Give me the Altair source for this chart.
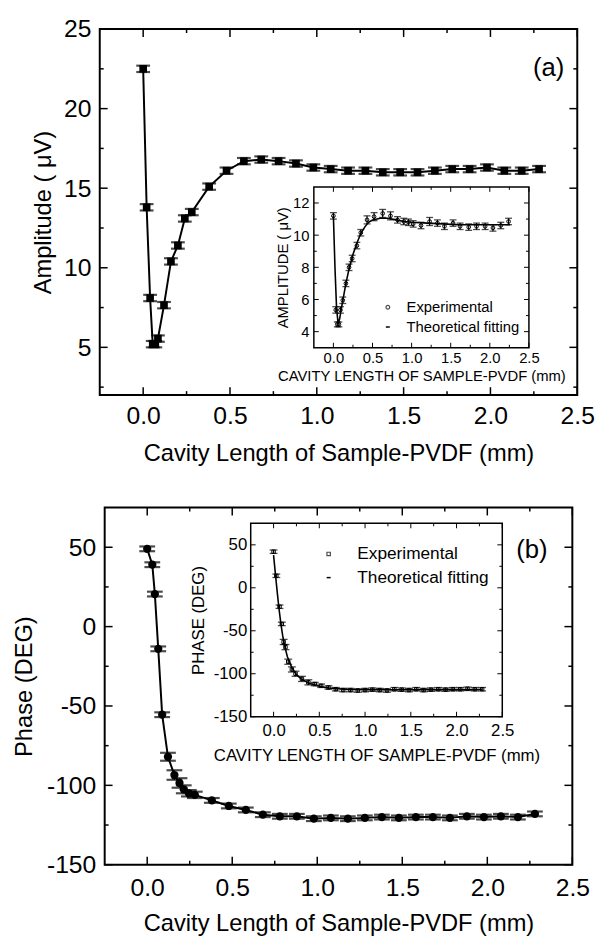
import altair as alt
import pandas as pd

FONT = "Liberation Sans"
W, H = 597, 933

# ---------------- data ----------------
# panel (a) main: amplitude (uV) vs cavity length (mm)
a_x = [0.0, 0.02, 0.04, 0.055, 0.07, 0.085, 0.12, 0.16, 0.2, 0.24, 0.28, 0.38, 0.48, 0.58, 0.68,
       0.78, 0.88, 0.98, 1.08, 1.18, 1.28, 1.38, 1.48, 1.58, 1.68, 1.78, 1.88, 1.98, 2.08, 2.18, 2.28]
a_y = [22.5, 13.8, 8.1, 5.2, 5.2, 5.55, 7.65, 10.4, 11.4, 13.1, 13.5, 15.1, 16.1, 16.7, 16.8,
       16.7, 16.55, 16.3, 16.2, 16.1, 16.1, 16.0, 16.0, 16.0, 16.1, 16.2, 16.2, 16.3, 16.1, 16.1, 16.2]
a_err = [0.2, 0.2, 0.2, 0.2, 0.2, 0.2, 0.2, 0.2, 0.2, 0.2, 0.2, 0.2, 0.2, 0.2, 0.2,
         0.2, 0.2, 0.2, 0.2, 0.2, 0.2, 0.2, 0.2, 0.2, 0.2, 0.2, 0.2, 0.2, 0.2, 0.2, 0.2]

# panel (b) main: phase (deg) vs cavity length (mm)
b_x = [0.0, 0.03, 0.045, 0.065, 0.088, 0.122, 0.16, 0.19, 0.215, 0.245, 0.28, 0.38, 0.48, 0.58, 0.68,
       0.78, 0.88, 0.98, 1.08, 1.18, 1.28, 1.38, 1.48, 1.58, 1.68, 1.78, 1.88, 1.98, 2.08, 2.18, 2.28]
b_y = [49, 39, 20.5, -14, -55.5, -82, -93.5, -98.5, -102.5, -105, -106, -109.5, -113, -115.5, -118.5,
       -119.5, -119.5, -121, -120.5, -121, -120.5, -120, -120.5, -120, -120, -120.5, -119.5, -120, -119.5, -120, -118]
b_err = [1.5, 1.5, 1.5, 1.5, 1.5, 2.5, 3, 3, 2.5, 2, 2, 1.5, 1.5, 1.5, 1.5,
         1.5, 1.5, 1.5, 1.5, 1.5, 1.5, 1.5, 1.5, 1.5, 1.5, 1.5, 1.5, 1.5, 1.5, 1.5, 1.5]

# inset (a)
ia_x = [0.0, 0.03, 0.05, 0.07, 0.09, 0.12, 0.16, 0.2, 0.24, 0.3, 0.35, 0.43, 0.52, 0.63, 0.73,
        0.82, 0.9, 0.96, 1.02, 1.12, 1.23, 1.33, 1.42, 1.53, 1.62, 1.73, 1.83, 1.94, 2.04, 2.14, 2.24]
ia_y = [11.2, 5.35, 4.45, 4.45, 5.35, 5.95, 7.0, 8.0, 8.55, 9.35, 10.15, 10.95, 11.15, 11.35, 11.2,
        10.95, 10.85, 10.8, 10.7, 10.6, 10.85, 10.75, 10.55, 10.75, 10.55, 10.5, 10.55, 10.55, 10.45, 10.6, 10.85]
ia_err = [0.2, 0.2, 0.15, 0.15, 0.2, 0.2, 0.2, 0.2, 0.2, 0.2, 0.2, 0.25, 0.25, 0.25, 0.25,
          0.2, 0.2, 0.2, 0.2, 0.2, 0.25, 0.2, 0.2, 0.2, 0.2, 0.2, 0.2, 0.2, 0.2, 0.2, 0.2]
ia_fit_x = [0.0, 0.02, 0.04, 0.06, 0.08, 0.1, 0.13, 0.16, 0.2, 0.25, 0.3, 0.35, 0.4, 0.45, 0.5,
            0.6, 0.7, 0.8, 0.9, 1.0, 1.2, 1.4, 1.6, 1.8, 2.0, 2.26]
ia_fit_y = [11.2, 8.0, 5.5, 4.5, 4.8, 5.4, 6.2, 7.0, 7.9, 8.8, 9.5, 10.1, 10.5, 10.8, 10.95,
            11.05, 11.05, 10.95, 10.85, 10.8, 10.75, 10.7, 10.65, 10.65, 10.65, 10.65]

# inset (b)
ib_x = [0.0, 0.03, 0.065, 0.09, 0.11, 0.13, 0.16, 0.2, 0.24, 0.31, 0.38, 0.45, 0.52, 0.6, 0.68,
        0.76, 0.84, 0.92, 1.0, 1.08, 1.16, 1.24, 1.32, 1.4, 1.48, 1.56, 1.64, 1.72, 1.8, 1.88,
        1.96, 2.04, 2.12, 2.2, 2.28]
ib_y = [42, 14, -22, -42, -63, -69, -86, -95, -100, -106, -110, -112, -114, -116, -118,
        -119, -119, -119.5, -119, -118.5, -119, -119.5, -118, -118.5, -119, -118, -119, -118.5, -118, -118.5,
        -118, -118, -117.5, -118, -118]
ib_err = [2, 2, 2, 2, 3, 3, 3, 3, 3, 3, 3, 2, 2, 2, 2,
          2, 2, 2, 2, 2, 2, 2, 2, 2, 2, 2, 2, 2, 2, 2,
          2, 2, 2, 2, 2]
ib_fit_x = [0.0, 0.02, 0.04, 0.06, 0.08, 0.1, 0.12, 0.15, 0.2, 0.25, 0.3, 0.4, 0.5, 0.6, 0.7,
            0.8, 1.0, 1.5, 2.0, 2.28]
ib_fit_y = [38, 16, -5, -25, -42, -56, -67, -80, -93, -101, -106, -111.5, -114.5, -116.5, -117.5,
            -118.3, -118.7, -118.7, -118.5, -118.3]

# tick values
x_major = [0.0, 0.5, 1.0, 1.5, 2.0, 2.5]
x_minor = [0.25, 0.75, 1.25, 1.75, 2.25]
a_y_major = [5, 10, 15, 20, 25]
a_y_minor = [2.5, 7.5, 12.5, 17.5, 22.5]
ia_y_major = [4, 6, 8, 10, 12]
ia_y_minor = [5, 7, 9, 11]
b_y_major = [-150, -100, -50, 0, 50]
b_y_minor = [-125, -75, -25, 25]

legend_labels = ["Experimental", "Theoretical fitting"]
panel_labels = ["(a)", "(b)"]

# ---------------- layout (pixels inside the chart) ----------------
GEOM = {
    "a":  dict(x0=93,  x1=577, y0=15,  y1=386, xd=[-0.25, 2.5], yd=[2, 25]),
    "ai": dict(x0=310, x1=528, y0=175, y1=338, xd=[-0.25, 2.5], yd=[3, 13]),
    "b":  dict(x0=98,  x1=572, y0=500, y1=862, xd=[-0.25, 2.5], yd=[-150, 75]),
    "bi": dict(x0=246, x1=501, y0=516, y1=712, xd=[-0.25, 2.5], yd=[-150, 75]),
}

COMMON = dict(ticks=False, tickSize=0, domain=False, grid=False, labelFlush=False,
              labelOverlap=False, labelFont=FONT, titleFont=FONT, titleFontWeight="normal",
              labelColor="black", titleColor="black", minExtent=0, zindex=1)

AXES = {}


def set_axes(p, xtitle, ytitle, yvals, st):
    g = GEOM[p]
    AXES[p] = (
        alt.Axis(orient="bottom", offset=g["y1"] - H, values=x_major, title=xtitle,
                 format=".1f",
                 labelFontSize=st["lf"], titleFontSize=st["tf"],
                 labelPadding=st["xlp"], titlePadding=st["xtp"], **COMMON),
        alt.Axis(orient="left", offset=-g["x0"], values=yvals, title=ytitle,
                 labelExpr="'' + datum.value",
                 labelFontSize=st["lf"], titleFontSize=st["tf"],
                 labelPadding=st["ylp"], titlePadding=st["ytp"], **COMMON),
    )


def xs(p):
    g = GEOM[p]
    return alt.Scale(domain=g["xd"], range=[g["x0"], g["x1"]], nice=False, zero=False)


def ys(p):
    g = GEOM[p]
    return alt.Scale(domain=g["yd"], range=[g["y1"], g["y0"]], nice=False, zero=False)


def X(p, f):
    return alt.X(f"{f}:Q", scale=xs(p), axis=AXES[p][0])


def Y(p, f):
    return alt.Y(f"{f}:Q", scale=ys(p), axis=AXES[p][1])


def frame(p, sw, fill):
    g = GEOM[p]
    df = pd.DataFrame({"xa": [g["xd"][0]], "xb": [g["xd"][1]],
                       "ya": [g["yd"][0]], "yb": [g["yd"][1]]})
    return alt.Chart(df).mark_rect(fill=fill, stroke="black", strokeWidth=sw).encode(
        x=X(p, "xa"), x2="xb", y=Y(p, "ya"), y2="yb")


def xticks(p, vals, length, sw):
    g = GEOM[p]
    base = alt.Chart(pd.DataFrame({"t": vals})).mark_rule(color="black", strokeWidth=sw)
    return [
        base.encode(x=X(p, "t"), y=alt.value(g["y1"]), y2=alt.value(g["y1"] - length)),
        base.encode(x=X(p, "t"), y=alt.value(g["y0"]), y2=alt.value(g["y0"] + length)),
    ]


def yticks(p, vals, length, sw):
    g = GEOM[p]
    base = alt.Chart(pd.DataFrame({"t": vals})).mark_rule(color="black", strokeWidth=sw)
    return [
        base.encode(y=Y(p, "t"), x=alt.value(g["x0"]), x2=alt.value(g["x0"] + length)),
        base.encode(y=Y(p, "t"), x=alt.value(g["x1"]), x2=alt.value(g["x1"] - length)),
    ]


def series(p, xv, yv, ev, cap, capw, point_mark):
    df = pd.DataFrame({"x": xv, "y": yv,
                       "lo": [y - e for y, e in zip(yv, ev)],
                       "hi": [y + e for y, e in zip(yv, ev)]})
    base = alt.Chart(df)
    bar = base.mark_rule(color="black", strokeWidth=1.2).encode(x=X(p, "x"), y=Y(p, "lo"), y2="hi")
    c1 = base.mark_tick(color="black", orient="horizontal", size=cap, thickness=capw).encode(
        x=X(p, "x"), y=Y(p, "lo"))
    c2 = base.mark_tick(color="black", orient="horizontal", size=cap, thickness=capw).encode(
        x=X(p, "x"), y=Y(p, "hi"))
    pts = base.mark_point(**point_mark).encode(x=X(p, "x"), y=Y(p, "y"))
    return [bar, c1, c2, pts]


def line(p, xv, yv, sw):
    df = pd.DataFrame({"x": xv, "y": yv})
    return alt.Chart(df).mark_line(color="black", strokeWidth=sw).encode(x=X(p, "x"), y=Y(p, "y"))


def label_text(txt, px, py, size, align="center"):
    return alt.Chart(pd.DataFrame({"s": [txt]})).mark_text(
        font=FONT, fontSize=size, color="black", align=align, baseline="middle").encode(
        text="s:N", x=alt.value(px), y=alt.value(py))


def legend(sym_x, text_x, y1, y2, size, sym_shape, sym_size):
    sym = alt.Chart(pd.DataFrame({"s": [legend_labels[0]]})).mark_point(
        shape=sym_shape, filled=False, color="black", size=sym_size, strokeWidth=1.2).encode(
        x=alt.value(sym_x), y=alt.value(y1))
    dash = alt.Chart(pd.DataFrame({"s": [legend_labels[1]]})).mark_rule(
        color="black", strokeWidth=1.5).encode(
        x=alt.value(sym_x - 2), x2=alt.value(sym_x + 2), y=alt.value(y2))
    return [sym, dash,
            label_text(legend_labels[0], text_x, y1, size, "left"),
            label_text(legend_labels[1], text_x, y2, size, "left")]


MAIN_A = dict(lf=25, tf=24, xlp=9, xtp=13, ylp=9, ytp=8)
MAIN_B = dict(lf=25, tf=24, xlp=11, xtp=12, ylp=9, ytp=10)
INS_A = dict(lf=15, tf=15, xlp=3, xtp=3, ylp=5, ytp=2)
INS_B = dict(lf=17, tf=17, xlp=6, xtp=9, ylp=4, ytp=6)

set_axes("a", "Cavity Length of Sample-PVDF (mm)", "Amplitude ( μV)", a_y_major, MAIN_A)
set_axes("ai", "CAVITY LENGTH OF SAMPLE-PVDF (mm)", "AMPLITUDE ( μV)", ia_y_major, INS_A)
set_axes("b", "Cavity Length of Sample-PVDF (mm)", "Phase (DEG)", b_y_major, MAIN_B)
set_axes("bi", "CAVITY LENGTH OF SAMPLE-PVDF (mm)", "PHASE (DEG)", b_y_major, INS_B)

# ---------------- panel (a) ----------------
pa = alt.layer(
    frame("a", 2, "transparent"),
    *xticks("a", x_major, 8, 1.5), *xticks("a", x_minor, 4, 1.5),
    *yticks("a", a_y_major, 8, 1.5), *yticks("a", a_y_minor, 4, 1.5),
    line("a", a_x, a_y, 2),
    *series("a", a_x, a_y, a_err, 14, 2.2,
            dict(shape="square", filled=True, color="black", size=60, opacity=1)),
    label_text(panel_labels[0], 548, 55, 26),
)

pai = alt.layer(
    frame("ai", 1.5, "white"),
    *xticks("ai", x_major, 5, 1), *xticks("ai", x_minor, 3, 1),
    *yticks("ai", ia_y_major, 5, 1), *yticks("ai", ia_y_minor, 3, 1),
    line("ai", ia_fit_x, ia_fit_y, 1.6),
    *series("ai", ia_x, ia_y, ia_err, 7, 1.3,
            dict(shape="circle", filled=False, color="black", size=14, strokeWidth=1, opacity=1)),
    *legend(385, 404, 297, 317, 15, "circle", 14),
)

# ---------------- panel (b) ----------------
pb = alt.layer(
    frame("b", 2, "transparent"),
    *xticks("b", x_major, 8, 1.5), *xticks("b", x_minor, 4, 1.5),
    *yticks("b", b_y_major, 8, 1.5), *yticks("b", b_y_minor, 4, 1.5),
    line("b", b_x, b_y, 2),
    *series("b", b_x, b_y, b_err, 16, 2.2,
            dict(shape="circle", filled=True, color="black", size=70, opacity=1)),
    label_text(panel_labels[1], 531, 543, 26),
)

pbi = alt.layer(
    frame("bi", 1.5, "white"),
    *xticks("bi", x_major, 5, 1), *xticks("bi", x_minor, 3, 1),
    *yticks("bi", b_y_major, 5, 1), *yticks("bi", b_y_minor, 3, 1),
    line("bi", ib_fit_x, ib_fit_y, 1.6),
    *series("bi", ib_x, ib_y, ib_err, 8, 1.3,
            dict(shape="square", filled=False, color="black", size=12, strokeWidth=1, opacity=1)),
    *legend(325, 354, 547, 571, 17.5, "square", 12),
)

chart = alt.layer(pa, pai, pb, pbi).resolve_scale(
    x="independent", y="independent"
).properties(width=W, height=H, padding=0, background="white").configure_view(strokeWidth=0)

chart.save("out.html", embed_options={"renderer": "svg", "actions": False})
